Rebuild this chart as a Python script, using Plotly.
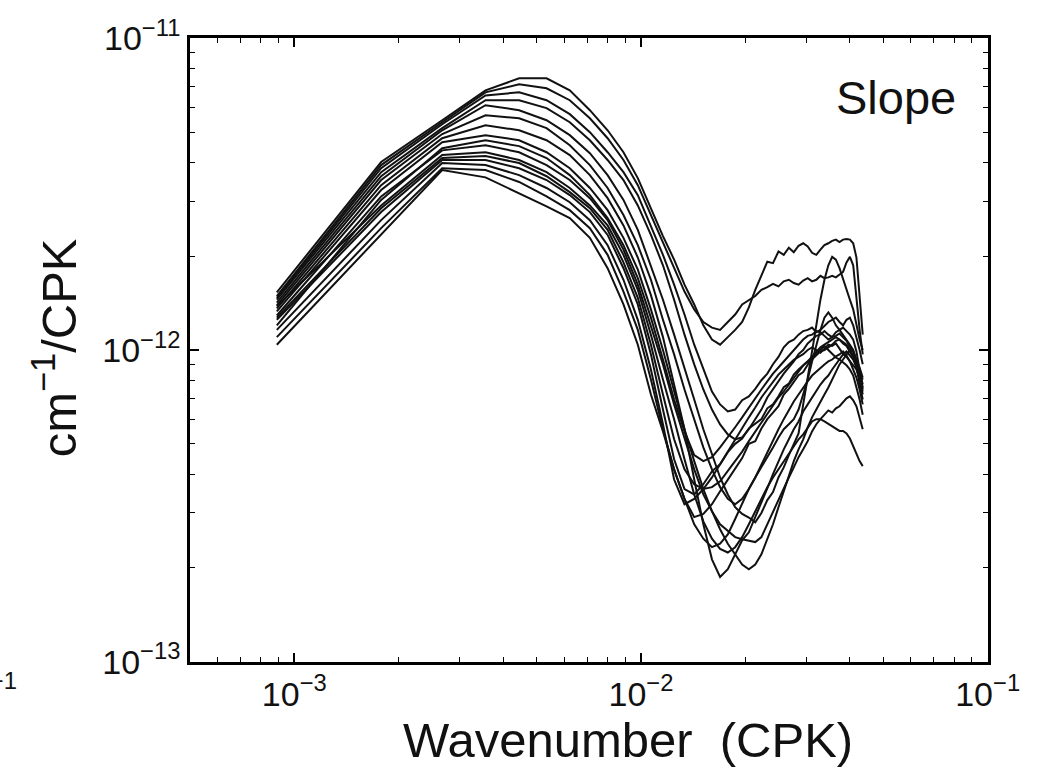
import numpy as np
import plotly.graph_objects as go

# Wavenumber (CPK) sample points
wavenumber = [0.00089, 0.00178, 0.00267, 0.00356, 0.00445, 0.00534, 0.00623, 0.00712, 0.00801, 0.0089,
              0.00979, 0.01068, 0.01157, 0.01246, 0.01335, 0.01424, 0.01513, 0.01602, 0.01691, 0.0178,
              0.01869, 0.01958, 0.02047, 0.02136, 0.02225, 0.02314, 0.02403, 0.02492, 0.02581, 0.0267,
              0.02759, 0.02848, 0.02937, 0.03026, 0.03115, 0.03204, 0.03293, 0.03382, 0.03471, 0.0356,
              0.03649, 0.03738, 0.03827, 0.03916, 0.04005, 0.04094, 0.04183, 0.04272, 0.04361]

# Slope spectra, in units of 1e-12 cm^-1/CPK
psd_01 = [1.53, 4.01, 5.46, 6.81, 7.44, 7.44, 6.81, 5.88, 5.07, 4.31, 3.56, 2.85, 2.32, 1.95, 1.62, 1.40, 1.20, 1.08, 1.04, 1.10,
          1.16, 1.23, 1.37, 1.56, 1.74, 1.92, 1.90, 2.07, 2.02, 2.13, 2.06, 2.16, 2.20, 2.15, 2.05, 2.02, 2.10, 2.17, 2.20, 2.24,
          2.26, 2.22, 2.26, 2.27, 2.26, 2.20, 1.98, 1.50, 1.12]
psd_02 = [1.49, 3.92, 5.38, 6.71, 7.12, 6.91, 6.33, 5.54, 4.78, 4.07, 3.38, 2.71, 2.20, 1.83, 1.54, 1.35, 1.23, 1.18, 1.16, 1.23,
          1.30, 1.40, 1.45, 1.49, 1.56, 1.59, 1.63, 1.60, 1.66, 1.68, 1.64, 1.62, 1.67, 1.70, 1.66, 1.68, 1.73, 1.70, 1.71, 1.73,
          1.71, 1.74, 1.78, 1.91, 1.99, 1.87, 1.45, 1.16, 0.968]
psd_03 = [1.47, 3.83, 5.30, 6.56, 6.71, 6.33, 5.71, 5.00, 4.31, 3.72, 3.14, 2.51, 2.02, 1.62, 1.30, 1.04, 0.866, 0.736, 0.669, 0.635,
          0.644, 0.69, 0.71, 0.75, 0.80, 0.84, 0.90, 0.95, 1.02, 1.06, 1.08, 1.12, 1.15, 1.16, 1.18, 1.14, 1.16, 1.20, 1.23, 1.25,
          1.27, 1.23, 1.20, 1.25, 1.27, 1.20, 1.10, 1.00, 0.90]
psd_04 = [1.45, 3.72, 5.15, 6.33, 6.33, 5.97, 5.38, 4.71, 4.07, 3.51, 2.91, 2.34, 1.87, 1.45, 1.12, 0.899, 0.747, 0.644, 0.577, 0.536,
          0.517, 0.524, 0.557, 0.600, 0.644, 0.704, 0.75, 0.80, 0.84, 0.88, 0.92, 0.97, 1.00, 1.05, 1.08, 1.11, 1.12, 1.15, 1.12, 1.10,
          1.14, 1.16, 1.18, 1.15, 1.12, 1.08, 0.99, 0.86, 0.747]
psd_05 = [1.42, 3.61, 5.07, 6.10, 5.88, 5.46, 4.89, 4.28, 3.64, 3.03, 2.43, 1.87, 1.45, 1.12, 0.866, 0.694, 0.557, 0.46, 0.39, 0.344,
          0.313, 0.298, 0.29, 0.28, 0.30, 0.33, 0.35, 0.39, 0.42, 0.46, 0.50, 0.54, 0.669, 0.804, 0.99, 1.20, 1.45, 1.68, 1.87, 1.99,
          1.95, 1.83, 1.70, 1.56, 1.45, 1.35, 1.20, 1.08, 1.00]
psd_06 = [1.39, 3.51, 4.93, 5.66, 5.54, 5.15, 4.54, 3.92, 3.31, 2.71, 2.17, 1.68, 1.25, 0.968, 0.747, 0.60, 0.487, 0.414, 0.363, 0.333,
          0.32, 0.333, 0.358, 0.39, 0.42, 0.453, 0.487, 0.524, 0.557, 0.578, 0.60, 0.644, 0.72, 0.804, 0.919, 1.04, 1.16, 1.27, 1.32, 1.27,
          1.20, 1.16, 1.12, 1.08, 1.04, 1.00, 0.93, 0.86, 0.775]
psd_07 = [1.36, 3.38, 4.78, 5.26, 5.07, 4.71, 4.22, 3.64, 3.07, 2.51, 1.98, 1.50, 1.10, 0.775, 0.557, 0.384, 0.276, 0.213, 0.187, 0.198,
          0.22, 0.245, 0.26, 0.29, 0.325, 0.36, 0.40, 0.44, 0.48, 0.517, 0.557, 0.59, 0.635, 0.669, 0.704, 0.736, 0.775, 0.804, 0.828, 0.866,
          0.899, 0.932, 0.968, 0.99, 0.96, 0.932, 0.879, 0.804, 0.72]
psd_08 = [1.33, 3.26, 4.64, 4.89, 4.71, 4.31, 3.83, 3.31, 2.81, 2.29, 1.81, 1.35, 1.00, 0.736, 0.557, 0.44, 0.358, 0.304, 0.266, 0.239,
          0.221, 0.205, 0.198, 0.205, 0.221, 0.248, 0.276, 0.313, 0.352, 0.39, 0.44, 0.48, 0.517, 0.565, 0.608, 0.644, 0.684, 0.72, 0.758, 0.804,
          0.853, 0.899, 0.932, 0.968, 1.00, 0.99, 0.899, 0.775, 0.694]
psd_09 = [1.29, 3.11, 4.37, 4.54, 4.31, 3.92, 3.51, 3.07, 2.61, 2.10, 1.62, 1.20, 0.899, 0.669, 0.517, 0.414, 0.344, 0.304, 0.276, 0.262,
          0.251, 0.247, 0.244, 0.242, 0.251, 0.276, 0.304, 0.333, 0.358, 0.39, 0.42, 0.453, 0.48, 0.51, 0.548, 0.578, 0.60, 0.62, 0.64, 0.63,
          0.65, 0.66, 0.68, 0.70, 0.71, 0.69, 0.66, 0.61, 0.557]
psd_10 = [1.38, 2.91, 4.22, 4.31, 4.07, 3.72, 3.31, 2.91, 2.51, 2.02, 1.56, 1.12, 0.804, 0.60, 0.446, 0.344, 0.282, 0.248, 0.23, 0.224,
          0.233, 0.251, 0.276, 0.304, 0.333, 0.363, 0.39, 0.414, 0.44, 0.463, 0.487, 0.517, 0.536, 0.565, 0.59, 0.60, 0.60, 0.59, 0.58, 0.57,
          0.56, 0.55, 0.55, 0.54, 0.52, 0.49, 0.46, 0.44, 0.424]
psd_11 = [1.25, 2.77, 4.07, 4.07, 3.83, 3.51, 3.14, 2.77, 2.34, 1.83, 1.40, 0.968, 0.644, 0.446, 0.358, 0.344, 0.371, 0.408, 0.43, 0.47,
          0.50, 0.52, 0.56, 0.58, 0.60, 0.65, 0.67, 0.71, 0.76, 0.78, 0.834, 0.866, 0.893, 0.919, 0.932, 0.96, 0.99, 1.00, 1.02, 1.04,
          1.07, 1.08, 1.06, 1.04, 1.00, 0.96, 0.919, 0.853, 0.804]
psd_12 = [1.16, 2.61, 3.98, 3.92, 3.64, 3.31, 2.98, 2.61, 2.17, 1.68, 1.25, 0.866, 0.578, 0.384, 0.32, 0.333, 0.358, 0.39, 0.43, 0.472,
          0.517, 0.565, 0.608, 0.654, 0.704, 0.747, 0.793, 0.834, 0.866, 0.899, 0.93, 0.95, 0.97, 1.00, 1.02, 1.00, 0.98, 1.01, 1.04, 1.03,
          1.05, 1.01, 0.97, 0.95, 0.92, 0.89, 0.866, 0.804, 0.736]
psd_13 = [1.10, 2.46, 3.83, 3.78, 3.46, 3.11, 2.81, 2.46, 2.02, 1.54, 1.16, 0.804, 0.557, 0.414, 0.333, 0.291, 0.298, 0.32, 0.352, 0.384,
          0.42, 0.45, 0.50, 0.51, 0.56, 0.60, 0.63, 0.66, 0.72, 0.75, 0.79, 0.83, 0.85, 0.90, 0.946, 0.975, 1.00, 1.03, 1.00, 0.975,
          0.946, 0.932, 0.912, 0.893, 0.866, 0.828, 0.758, 0.694, 0.62]
psd_14 = [1.04, 2.35, 3.78, 3.58, 3.19, 2.89, 2.65, 2.29, 1.83, 1.40, 1.04, 0.72, 0.548, 0.414, 0.333, 0.276, 0.248, 0.233, 0.239, 0.256,
          0.287, 0.32, 0.358, 0.39, 0.43, 0.472, 0.517, 0.557, 0.60, 0.644, 0.684, 0.72, 0.758, 0.793, 0.828, 0.853, 0.879, 0.899, 0.919, 0.932,
          0.954, 0.968, 0.99, 0.96, 0.919, 0.866, 0.816, 0.747, 0.669]
psd_15 = [1.20, 3.03, 4.44, 4.71, 4.51, 4.13, 3.64, 3.14, 2.65, 2.17, 1.70, 1.27, 0.932, 0.694, 0.548, 0.46, 0.44, 0.453, 0.487, 0.524,
          0.565, 0.608, 0.654, 0.704, 0.747, 0.793, 0.84, 0.879, 0.919, 0.96, 1.00, 1.04, 1.08, 1.11, 1.12, 1.15, 1.14, 1.11, 1.08, 1.10,
          1.11, 1.13, 1.10, 1.07, 1.02, 0.99, 0.932, 0.879, 0.816]
psd_16 = [1.27, 2.85, 4.13, 4.19, 3.98, 3.61, 3.21, 2.85, 2.43, 1.91, 1.47, 1.04, 0.72, 0.517, 0.414, 0.371, 0.358, 0.363, 0.379, 0.408,
          0.44, 0.472, 0.51, 0.548, 0.586, 0.626, 0.664, 0.704, 0.736, 0.775, 0.816, 0.853, 0.893, 0.919, 0.954, 0.99, 1.02, 1.04, 1.06, 1.08,
          1.10, 1.08, 1.05, 1.03, 0.99, 0.946, 0.899, 0.834, 0.758]

spectra = [psd_01, psd_02, psd_03, psd_04, psd_05, psd_06, psd_07, psd_08,
           psd_09, psd_10, psd_11, psd_12, psd_13, psd_14, psd_15, psd_16]
unit = 1e-12

x_ticks = [1e-3, 1e-2, 1e-1]
x_ticktext = ["10<sup>\u22123</sup>", "10<sup>\u22122</sup>", "10<sup>\u22121</sup>"]
y_ticks = [1e-13, 1e-12, 1e-11]
y_ticktext = ["10<sup>\u221213</sup>", "10<sup>\u221212</sup>", "10<sup>\u221211</sup>"]

FONT = "Liberation Sans, Arial, Helvetica, sans-serif"

fig = go.Figure()
for s in spectra:
    fig.add_trace(go.Scatter(x=wavenumber, y=np.array(s) * unit, mode="lines",
                             line=dict(color="#111111", width=2.0), showlegend=False,
                             hoverinfo="skip"))

minor_x = [m * 10.0 ** e for e in (-4, -3, -2) for m in range(2, 10)]
minor_y = [m * 10.0 ** e for e in (-13, -12) for m in range(2, 10)]

fig.update_xaxes(type="log", range=[np.log10(5e-4), -0.999],
                 tickmode="array", tickvals=x_ticks, ticktext=x_ticktext,
                 ticks="inside", ticklen=9, tickwidth=1.5, tickcolor="black",
                 showline=True, linecolor="black", linewidth=2.5, mirror="ticks",
                 showgrid=False, zeroline=False,
                 tickfont=dict(family=FONT, size=34, color="#111111"),
                 minor=dict(tickmode="array", tickvals=minor_x, ticks="inside",
                            ticklen=5, tickwidth=1.2, tickcolor="black", showgrid=False))
fig.update_yaxes(type="log", range=[-13.001, -10.999],
                 tickmode="array", tickvals=y_ticks, ticktext=y_ticktext,
                 ticks="inside", ticklen=9, tickwidth=1.5, tickcolor="black",
                 showline=True, linecolor="black", linewidth=2.5, mirror="ticks",
                 showgrid=False, zeroline=False,
                 tickfont=dict(family=FONT, size=34, color="#111111"),
                 minor=dict(tickmode="array", tickvals=minor_y, ticks="inside",
                            ticklen=5, tickwidth=1.2, tickcolor="black", showgrid=False))

fig.update_layout(
    width=1045, height=779, autosize=False,
    margin=dict(l=190, r=57, t=38, b=117),
    paper_bgcolor="white", plot_bgcolor="white",
    font=dict(family=FONT, color="#111111"),
    annotations=[
        dict(text="Wavenumber  (CPK)", xref="paper", yref="paper", x=0.549, y=-0.125,
             xanchor="center", yanchor="middle", showarrow=False,
             font=dict(family=FONT, size=49, color="#111111")),
        dict(text="cm<sup>\u22121</sup>/CPK", xref="paper", yref="paper", x=-0.169, y=0.503,
             xanchor="center", yanchor="middle", showarrow=False, textangle=-90,
             font=dict(family=FONT, size=49, color="#111111")),
        dict(text="Slope", xref="paper", yref="paper", x=0.885, y=0.904,
             xanchor="center", yanchor="middle", showarrow=False,
             font=dict(family=FONT, size=47, color="#111111")),
        dict(text="10<sup>\u22121</sup>", xref="paper", yref="paper", x=-0.2143, y=-0.042,
             xanchor="right", yanchor="middle", showarrow=False,
             font=dict(family=FONT, size=34, color="#111111")),
    ],
)

fig.write_html("out.html")
